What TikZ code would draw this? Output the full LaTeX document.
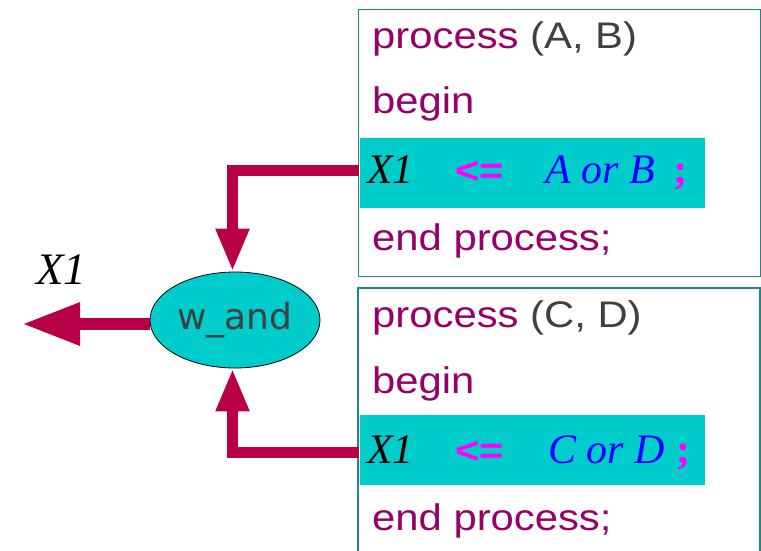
\documentclass[tikz,border=0pt]{standalone}
\usepackage{fontspec}
\usetikzlibrary{arrows.meta,shapes.geometric}
\newfontfamily\codesans[FakeStretch=1.13]{Liberation Sans}
\newfontfamily\codeserif{Liberation Serif}
\newfontfamily\dvsans{DejaVu Sans}
\definecolor{boxteal}{RGB}{30,135,135}
\definecolor{hlcyan}{RGB}{0,204,204}
\definecolor{kwpurple}{RGB}{150,0,105}
\definecolor{pgray}{RGB}{64,64,64}
\definecolor{arrred}{RGB}{184,0,70}
\definecolor{mag}{RGB}{255,0,255}
\definecolor{vblue}{RGB}{0,0,255}
\tikzset{
  kw/.style={anchor=base west,inner sep=0pt,text=kwpurple,font=\codesans\fontsize{37}{40}\selectfont},
  sig/.style={anchor=base west,inner sep=0pt,font=\codeserif\itshape\fontsize{42}{44}\selectfont},
  op/.style={anchor=base west,inner sep=0pt,text=mag,font=\codesans\bfseries\fontsize{37}{40}\selectfont},
  semi/.style={anchor=base west,inner sep=0pt,text=mag,font=\codeserif\bfseries\fontsize{42}{44}\selectfont},
  hl/.style={anchor=north west,inner sep=0pt,fill=hlcyan,minimum width=345pt,minimum height=70pt},
  codebox/.style={draw=boxteal,line width=1.4pt},
  thick arrow/.style={draw=arrred,line width=11pt,-{Triangle[width=31pt,length=43pt]}},
}
\begin{document}
\begin{tikzpicture}[x=1pt,y=-1pt]
\useasboundingbox (0,0) rectangle (761,550);
% code boxes
\node[codebox,anchor=north west,inner sep=0pt,minimum width=402pt,minimum height=267pt] (box1) at (358,9) {};
\draw[codebox] (358,552) -- (358,288) -- (760,288) -- (760,552);
% highlights
\node[hl] (hl1) at (360,138) {};
\node[hl] (hl2) at (360,415) {};
% box 1 text
\node[kw] (p1) at (372,48) {process \textcolor{pgray}{(A, B)}};
\node[kw] (b1) at (372,113) {begin};
\node[sig] (x1a) at (367,183) {X1};
\node[op] (le1) at (455,183) {<=};
\node[sig,text=vblue] (ab) at (545,183) {A or B};
\node[semi] (s1) at (673,183) {;};
\node[kw] (e1) at (372,250) {end process;};
% box 2 text
\node[kw] (p2) at (372,327) {process \textcolor{pgray}{(C, D)}};
\node[kw] (b2) at (372,393) {begin};
\node[sig] (x1b) at (367,463) {X1};
\node[op] (le2) at (455,463) {<=};
\node[sig,text=vblue] (cd) at (548,463) {C or D};
\node[semi] (s2) at (676,463) {;};
\node[kw] (e2) at (372,530) {end process;};
% gate
\node[ellipse,draw=black,line width=0.8pt,fill=hlcyan,minimum width=170pt,minimum height=96pt,inner sep=0pt,
      text=pgray,font=\dvsans\fontsize{36}{38}\selectfont] (ell) at (235,320) {w\_and};
\node[anchor=base west,inner sep=0pt,font=\codeserif\itshape\fontsize{45}{47}\selectfont] (x1out) at (36,284) {X1};
% connectors
\coordinate (src1) at (359,170.5);
\coordinate (src2) at (359,452);
\coordinate (out) at (22,324);
\draw[thick arrow] (src1) -| ([xshift=-2.5pt]ell.north);
\draw[thick arrow] (src2) -| ([xshift=-2.5pt]ell.south);
\draw[draw=arrred,line width=12pt,-{Triangle[width=40pt,length=58pt]}] (ell.west |- out) -- (out);
\end{tikzpicture}
\end{document}
